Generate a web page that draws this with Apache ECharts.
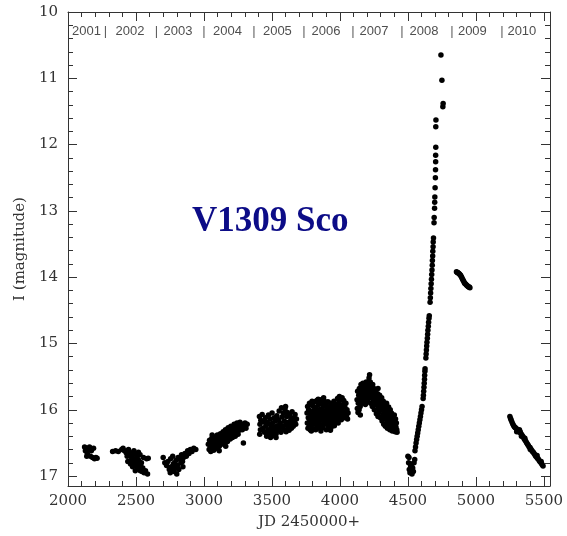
<!DOCTYPE html>
<html>
<head>
<meta charset="utf-8">
<script src="https://cdn.jsdelivr.net/npm/echarts@6/dist/echarts.min.js"></script>
<style>
html,body{margin:0;padding:0;background:#fff;}
#chart{width:567px;height:536px;}
</style>
</head>
<body>
<div id="chart"></div>
<script>
// ---- data (JD-2450000, I magnitude) ----
const xTicks = [2000, 2500, 3000, 3500, 4000, 4500, 5000, 5500];
const yTicks = [10, 11, 12, 13, 14, 15, 16, 17];
const yearNames = ['2001','2002','2003','2004','2005','2006','2007','2008','2009','2010'];
const yearLabelJD = [2136, 2456, 2809, 3173, 3540, 3897, 4250, 4618, 4974, 5338];
const yearBoundJD = [2275, 2650, 3000, 3368, 3735, 4096, 4456, 4824, 5191];

const s2001 = [[2122,16.56],[2128,16.62],[2135,16.58],[2142,16.66],[2150,16.6],[2158,16.56],[2165,16.7],[2172,16.62],[2180,16.72],[2188,16.58],[2195,16.74],[2205,16.72],[2214,16.73],[2138,16.7]];

const s2002 = [[2328,16.63],[2350,16.62],[2370,16.63],[2395,16.6],[2405,16.58],[2415,16.62],[2428,16.65],[2435,16.7],[2445,16.6],[2455,16.64],[2460,16.7],[2465,16.76],[2470,16.68],[2478,16.73],[2485,16.62],[2490,16.8],[2495,16.66],[2500,16.74],[2505,16.86],[2510,16.7],[2515,16.82],[2520,16.76],[2525,16.9],[2530,16.68],[2535,16.85],[2540,16.8],[2545,16.93],[2550,16.88],[2555,16.72],[2560,16.95],[2570,16.92],[2578,16.74],[2585,16.97],[2590,16.73],[2475,16.86],[2460,16.82],[2440,16.78],[2495,16.92],[2482,16.78],[2518,16.64],[2532,16.92]];

const s2003 = [[2700,16.72],[2712,16.8],[2725,16.84],[2735,16.78],[2745,16.9],[2755,16.74],[2760,16.86],[2770,16.7],[2775,16.82],[2780,16.93],[2790,16.88],[2795,16.76],[2800,16.97],[2805,16.84],[2815,16.9],[2820,16.74],[2830,16.8],[2835,16.68],[2845,16.86],[2850,16.72],[2860,16.66],[2870,16.7],[2880,16.62],[2890,16.66],[2900,16.6],[2912,16.63],[2925,16.58],[2940,16.6],[2785,16.8],[2810,16.72],[2752,16.95],[2768,16.9],[2842,16.78]];

const s2004 = [[3032,16.52],[3038,16.6],[3041,16.46],[3047,16.56],[3050,16.63],[3053,16.49],[3058,16.43],[3061,16.58],[3066,16.52],[3070,16.47],[3072,16.61],[3078,16.41],[3081,16.55],[3086,16.5],[3090,16.44],[3093,16.58],[3098,16.38],[3101,16.52],[3106,16.46],[3109,16.41],[3113,16.55],[3118,16.48],[3121,16.36],[3126,16.43],[3129,16.52],[3133,16.39],[3138,16.46],[3141,16.33],[3146,16.5],[3150,16.42],[3153,16.36],[3158,16.3],[3161,16.45],[3166,16.39],[3170,16.33],[3173,16.48],[3178,16.27],[3181,16.41],[3186,16.35],[3190,16.3],[3193,16.44],[3198,16.25],[3201,16.38],[3206,16.32],[3210,16.42],[3213,16.27],[3218,16.35],[3222,16.22],[3226,16.3],[3230,16.4],[3234,16.25],[3238,16.33],[3243,16.2],[3247,16.28],[3251,16.37],[3256,16.23],[3260,16.31],[3265,16.19],[3270,16.27],[3276,16.22],[3282,16.3],[3290,16.5],[3295,16.24],[3302,16.2],[3309,16.28],[3318,16.22],[3112,16.62],[3160,16.55],[3060,16.38]];

const s2005 = [[3408,16.1],[3412,16.22],[3415,16.3],[3410,16.37],[3418,16.16],[3428,16.07],[3435,16.28],[3440,16.18],[3446,16.34],[3452,16.12],[3455,16.24],[3461,16.4],[3466,16.19],[3470,16.3],[3474,16.08],[3479,16.36],[3483,16.22],[3488,16.14],[3492,16.28],[3497,16.33],[3501,16.05],[3505,16.2],[3509,16.39],[3514,16.26],[3518,16.12],[3523,16.3],[3527,16.17],[3531,16.36],[3536,16.09],[3540,16.24],[3545,16.31],[3549,16.15],[3553,16.02],[3557,16.27],[3561,16.2],[3566,16.34],[3570,15.97],[3574,16.11],[3578,16.25],[3583,16.05],[3587,16.3],[3591,16.17],[3596,15.99],[3600,16.23],[3604,16.33],[3608,16.1],[3613,16.04],[3617,16.27],[3621,16.19],[3626,16.31],[3630,16.08],[3634,16.22],[3639,16.14],[3643,16.28],[3648,16.03],[3652,16.2],[3657,16.25],[3661,16.12],[3666,16.18],[3670,16.07],[3675,16.22],[3680,16.14],[3530,16.42],[3490,16.42],[3600,15.95]];

const s2006 = [[3758,16.05],[3760,16.2],[3762,15.95],[3765,16.28],[3767,16.12],[3770,16.0],[3773,16.22],[3776,15.9],[3778,16.15],[3781,16.3],[3784,16.06],[3786,15.93],[3789,16.24],[3792,16.1],[3795,15.87],[3797,16.18],[3800,16.02],[3803,16.29],[3806,15.95],[3808,16.12],[3811,16.22],[3814,15.88],[3817,16.05],[3819,16.17],[3822,16.3],[3825,15.98],[3828,16.1],[3830,15.86],[3833,16.25],[3836,16.03],[3839,16.14],[3842,15.92],[3844,16.2],[3847,16.08],[3850,16.28],[3853,15.85],[3856,15.99],[3858,16.16],[3861,16.06],[3864,16.23],[3867,15.9],[3870,16.12],[3872,16.01],[3875,16.27],[3878,15.95],[3881,16.18],[3884,16.08],[3886,15.87],[3889,16.22],[3892,16.04],[3895,16.14],[3898,15.93],[3900,16.3],[3903,16.1],[3906,15.98],[3909,16.2],[3912,15.88],[3914,16.06],[3917,16.25],[3920,16.13],[3923,15.96],[3926,16.02],[3928,16.18],[3931,15.9],[3934,16.27],[3937,16.08],[3940,15.99],[3942,16.15],[3945,16.22],[3948,15.94],[3951,16.05],[3954,16.12],[3956,15.87],[3959,16.24],[3962,16.0],[3965,16.1],[3968,15.92],[3970,16.18],[3973,16.04],[3976,15.97],[3979,16.14],[3982,15.83],[3984,16.08],[3987,16.2],[3990,15.9],[3993,16.02],[3996,15.8],[3998,16.12],[4001,15.95],[4004,16.06],[4007,15.85],[4010,16.15],[4013,15.99],[4016,15.82],[4019,16.09],[4022,15.92],[4025,16.03],[4028,15.86],[4032,16.12],[4036,15.96],[4040,16.05],[4044,15.9],[4048,16.1],[4052,16.0],[4056,16.14],[4060,16.05],[3790,16.32],[3860,16.32],[3930,16.31],[3880,15.82],[3840,15.84]];

const s2007 = [[4126,15.85],[4128,15.98],[4130,15.72],[4133,16.04],[4135,15.9],[4138,15.78],[4141,16.0],[4143,15.68],[4146,15.86],[4149,15.95],[4152,15.74],[4155,15.62],[4158,15.82],[4161,15.9],[4163,15.7],[4166,15.79],[4169,15.6],[4172,15.88],[4175,15.67],[4178,15.75],[4181,15.84],[4184,15.63],[4187,15.92],[4190,15.71],[4193,15.58],[4196,15.8],[4199,15.66],[4202,15.88],[4205,15.74],[4208,15.6],[4211,15.83],[4214,15.52],[4216,15.69],[4218,15.47],[4220,15.77],[4223,15.58],[4226,15.9],[4229,15.65],[4232,15.82],[4235,15.72],[4238,15.95],[4241,15.62],[4244,15.78],[4247,15.87],[4250,15.68],[4253,16.0],[4256,15.74],[4259,15.84],[4262,15.93],[4265,15.7],[4268,16.06],[4271,15.8],[4274,15.9],[4277,15.76],[4280,16.1],[4283,15.98],[4286,15.85],[4289,16.04],[4292,15.78],[4295,15.93],[4298,16.12],[4301,15.88],[4304,16.0],[4307,15.82],[4310,16.17],[4313,15.95],[4316,16.08],[4319,15.87],[4322,16.22],[4325,16.02],[4328,15.92],[4331,16.13],[4334,16.25],[4337,15.98],[4340,16.07],[4343,15.9],[4346,16.18],[4349,16.28],[4352,16.02],[4355,16.12],[4358,15.96],[4361,16.22],[4364,16.08],[4367,16.3],[4370,16.0],[4373,16.16],[4376,16.25],[4379,16.05],[4382,16.2],[4385,16.32],[4388,16.1],[4391,16.24],[4394,16.16],[4397,16.3],[4400,16.08],[4403,16.2],[4406,16.33],[4409,16.14],[4412,16.26],[4415,16.2],[4418,16.3],[4420,16.34],[4150,16.08],[4280,15.68]];

const s2008quiet = [[4500,16.7],[4505,16.8],[4510,16.9],[4515,16.95],[4520,16.85],[4525,16.92],[4530,16.97],[4535,16.88],[4540,16.93],[4545,16.8],[4550,16.75],[4508,16.72],[4528,16.82]];

const s2008rise = [[4552,16.62],[4556,16.56],[4560,16.5],[4564,16.45],[4568,16.4],[4572,16.35],[4576,16.3],[4580,16.25],[4584,16.2],[4588,16.15],[4592,16.1],[4596,16.05],[4600,16.0],[4604,15.95],
[4612,15.83],[4614,15.78],[4616,15.72],[4618,15.66],[4620,15.6],[4622,15.54],[4623,15.48],[4625,15.42],[4626,15.38],
[4632,15.22],[4634,15.16],[4636,15.1],[4638,15.04],[4640,14.98],[4643,14.92],[4645,14.86],[4647,14.8],[4650,14.74],[4652,14.68],[4655,14.62],[4657,14.58],
[4663,14.38],[4665,14.31],[4667,14.24],[4669,14.17],[4671,14.1],[4673,14.03],[4675,13.96],[4677,13.89],[4679,13.82],[4680,13.75],[4682,13.68],[4683,13.61],[4685,13.54],[4686,13.47],[4688,13.41],
[4692,13.18],[4693,13.1],[4696,12.96],[4697,12.87],[4698,12.79],[4700,12.65],[4702,12.5],[4703,12.38],[4704,12.26],[4704,12.16],[4705,12.04],[4705,11.73],[4706,11.63],[4757,11.43],[4759,11.38],[4750,11.03],[4743,10.65]];

const s2009 = [[4857,13.92],[4862,13.93],[4867,13.93],[4872,13.94],[4877,13.95],[4882,13.96],[4887,13.97],[4892,13.99],[4897,14.01],[4902,14.03],[4907,14.05],[4912,14.07],[4917,14.09],[4922,14.1],[4927,14.11],[4932,14.12],[4937,14.13],[4942,14.14],[4947,14.15],[4952,14.15],[4956,14.16]];

const s2010 = [[5250,16.1],[5255,16.13],[5260,16.16],[5266,16.19],[5272,16.22],[5278,16.24],[5284,16.26],[5290,16.27],[5296,16.28],[5302,16.3],[5308,16.31],[5314,16.32],[5320,16.34],[5326,16.33],[5332,16.36],[5338,16.38],[5344,16.4],[5350,16.42],[5356,16.44],[5362,16.46],[5368,16.48],[5374,16.5],[5380,16.52],[5386,16.54],[5392,16.56],[5398,16.57],[5404,16.59],[5410,16.61],[5416,16.63],[5422,16.64],[5428,16.66],[5434,16.68],[5440,16.7],[5446,16.71],[5452,16.73],[5458,16.74],[5464,16.76],[5470,16.78],[5476,16.79],[5482,16.81],[5488,16.83],[5494,16.85],[5300,16.33],[5320,16.3],[5335,16.4],[5360,16.43],[5400,16.6],[5450,16.69],[5480,16.78]];

// ---- chart ----
const X_MIN = 2000, X_MAX = 5545, Y_MIN = 10, Y_MAX = 17.15;
const YEAR_Y = 10.29;
const axisColor = '#333';
const labelFont = 'DejaVu Serif';

function xAxisDef(pos, major, showLabel) {
  return {
    type: 'value', position: pos, min: X_MIN, max: X_MAX,
    interval: major ? 500 : 100,
    axisLine: { show: major, lineStyle: { color: axisColor, width: 1 } },
    axisTick: { show: true, inside: true, length: major ? 9 : 5, lineStyle: { color: axisColor, width: 1 } },
    axisLabel: showLabel ? {
      show: true, margin: 8, color: '#333', fontFamily: labelFont, fontSize: 15,
      formatter: v => (xTicks.indexOf(v) >= 0 ? String(v) : '')
    } : { show: false },
    splitLine: { show: false },
    name: showLabel ? 'JD 2450000+' : '',
    nameLocation: 'middle', nameGap: 29,
    nameTextStyle: { color: '#333', fontFamily: labelFont, fontSize: 15 }
  };
}
function yAxisDef(pos, major, showLabel) {
  return {
    type: 'value', position: pos, min: Y_MIN, max: Y_MAX, inverse: true,
    interval: major ? 1 : 0.2,
    axisLine: { show: major, lineStyle: { color: axisColor, width: 1 } },
    axisTick: { show: true, inside: true, length: major ? 9 : 5, lineStyle: { color: axisColor, width: 1 } },
    axisLabel: showLabel ? {
      show: true, margin: 10, color: '#333', fontFamily: labelFont, fontSize: 15,
      formatter: v => (yTicks.indexOf(v) >= 0 ? String(v) : '')
    } : { show: false },
    splitLine: { show: false },
    name: showLabel ? 'I (magnitude)' : '',
    nameLocation: 'middle', nameGap: 38,
    nameTextStyle: { color: '#333', fontFamily: labelFont, fontSize: 15 }
  };
}

const dotSeries = [s2001, s2002, s2003, s2004, s2005, s2006, s2007, s2008quiet, s2008rise, s2009, s2010].map(d => ({
  type: 'scatter', xAxisIndex: 0, yAxisIndex: 0, data: d,
  symbol: 'circle', symbolSize: 5.5,
  itemStyle: { color: '#000', opacity: 1 }, silent: true
}));

const yearSeries = {
  type: 'scatter', xAxisIndex: 0, yAxisIndex: 0, symbolSize: 0, silent: true,
  data: yearLabelJD.map((x, i) => ({ value: [x, YEAR_Y], name: yearNames[i] })),
  label: { show: true, position: [0, 0], align: 'center', verticalAlign: 'middle',
    formatter: p => p.name, color: '#222', fontFamily: 'Liberation Sans', fontSize: 13 }
};
const sepSeries = {
  type: 'scatter', xAxisIndex: 0, yAxisIndex: 0, symbolSize: 0, silent: true,
  data: yearBoundJD.map(x => [x, YEAR_Y]),
  label: { show: true, position: [0, 0], align: 'center', verticalAlign: 'middle',
    formatter: '|', color: '#333', fontFamily: 'Liberation Sans', fontSize: 13 }
};

const chart = echarts.init(document.getElementById('chart'), null, { renderer: 'canvas' });
chart.setOption({
  animation: false,
  backgroundColor: '#fff',
  title: {
    text: 'V1309 Sco', left: 192, top: 204, padding: 0,
    textStyle: { color: '#0c0c87', fontFamily: 'Liberation Serif', fontWeight: 'bold', fontSize: 35 }
  },
  grid: { left: 68, right: 17, top: 12, bottom: 50, containLabel: false },
  xAxis: [xAxisDef('bottom', true, true), xAxisDef('bottom', false, false), xAxisDef('top', true, false), xAxisDef('top', false, false)],
  yAxis: [yAxisDef('left', true, true), yAxisDef('left', false, false), yAxisDef('right', true, false), yAxisDef('right', false, false)],
  series: dotSeries.concat([yearSeries, sepSeries])
});
</script>
</body>
</html>
